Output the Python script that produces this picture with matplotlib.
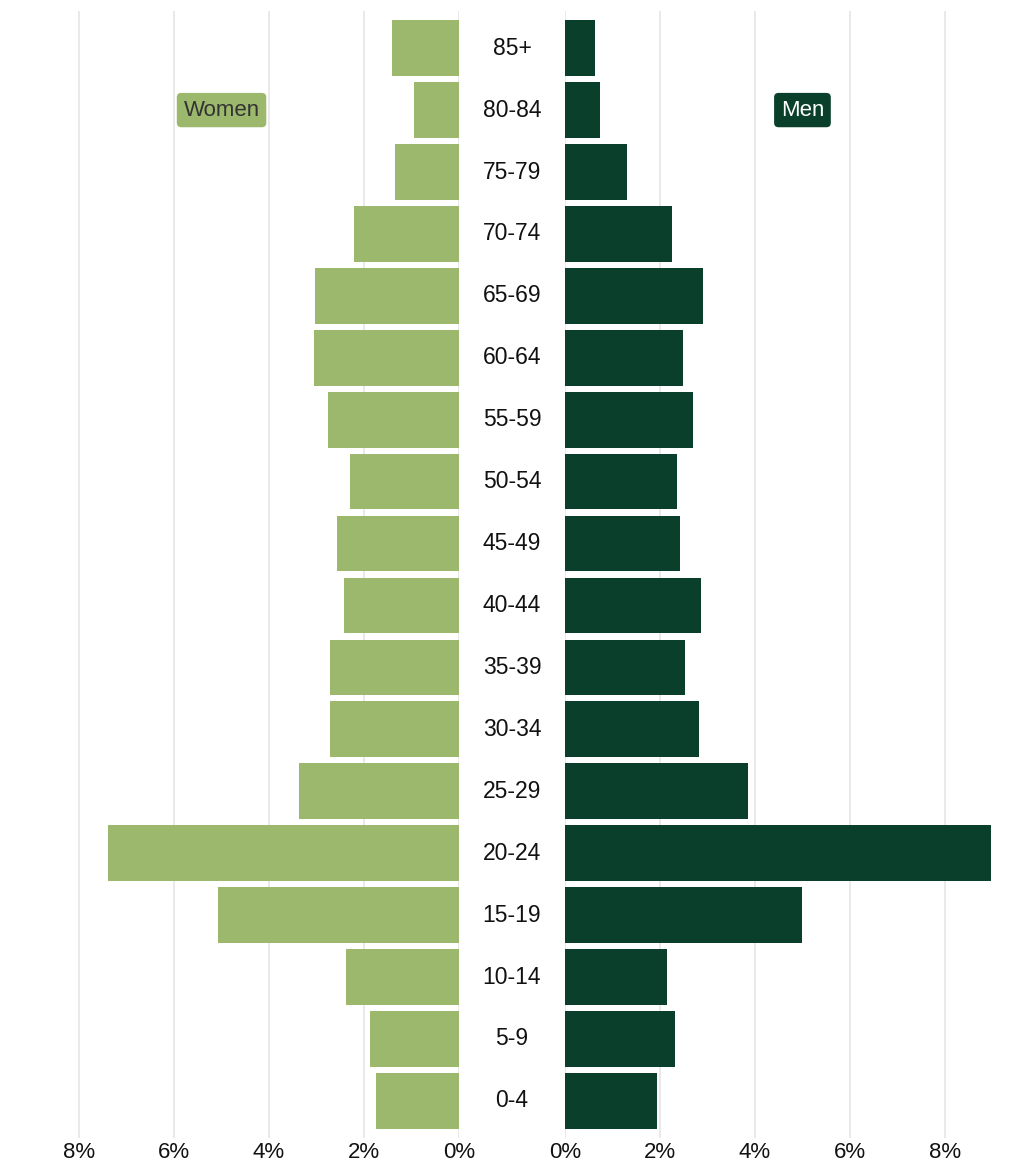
import matplotlib
matplotlib.use("Agg")
import matplotlib.pyplot as plt
from matplotlib.transforms import blended_transform_factory

plt.rcParams['font.family'] = ['Liberation Sans', 'DejaVu Sans']

ages = ["0-4", "5-9", "10-14", "15-19", "20-24", "25-29", "30-34", "35-39",
        "40-44", "45-49", "50-54", "55-59", "60-64", "65-69", "70-74",
        "75-79", "80-84", "85+"]
women = [1.75, 1.87, 2.38, 5.07, 7.39, 3.37, 2.72, 2.72, 2.42, 2.57, 2.29,
         2.76, 3.05, 3.03, 2.21, 1.35, 0.95, 1.41]
men = [1.94, 2.32, 2.15, 4.99, 8.97, 3.85, 2.82, 2.53, 2.86, 2.42, 2.36,
       2.69, 2.48, 2.91, 2.25, 1.31, 0.74, 0.63]
xticks = [0, 2, 4, 6, 8]
xticklabels = ["0%", "2%", "4%", "6%", "8%"]

c_women = "#9BB86C"
c_men = "#0A3F2C"
grid_c = "#E3E3E3"

W, H = 1024, 1170
fig = plt.figure(figsize=(W / 100, H / 100), dpi=100)

top, bottom = 11, 1138
xmax = 8.97
axL = fig.add_axes([33 / W, 1 - bottom / H, (459 - 33) / W, (bottom - top) / H])
axR = fig.add_axes([565 / W, 1 - bottom / H, (991 - 565) / W, (bottom - top) / H])

y = list(range(len(ages)))
axL.barh(y, women, height=0.9, color=c_women, zorder=2)
axR.barh(y, men, height=0.9, color=c_men, zorder=2)

axL.set_xlim(xmax, 0)
axR.set_xlim(0, xmax)
for ax in (axL, axR):
    ax.set_ylim(-0.6, len(ages) - 0.4)
    ax.set_xticks(xticks)
    ax.set_xticklabels(xticklabels, fontsize=16, color="#111111")
    ax.set_yticks([])
    ax.tick_params(axis="x", length=0, pad=3)
    for s in ax.spines.values():
        s.set_visible(False)
    ax.grid(axis="x", color=grid_c, linewidth=1.1, zorder=0)
    ax.set_axisbelow(True)

trans = blended_transform_factory(fig.transFigure, axL.transData)
for i, a in enumerate(ages):
    fig.text(512 / W, i, a, transform=trans, ha="center", va="center",
             fontsize=16.5, color="#111111")

idx = ages.index("80-84")
axL.text(5, idx, "Women", ha="center", va="center", fontsize=16, color="#333333",
         bbox=dict(boxstyle="round,pad=0.3,rounding_size=0.2", fc=c_women, ec="none"))
axR.text(5, idx, "Men", ha="center", va="center", fontsize=16, color="white",
         bbox=dict(boxstyle="round,pad=0.3,rounding_size=0.2", fc=c_men, ec="none"))

fig.savefig("out.png", dpi=100, facecolor="white")
